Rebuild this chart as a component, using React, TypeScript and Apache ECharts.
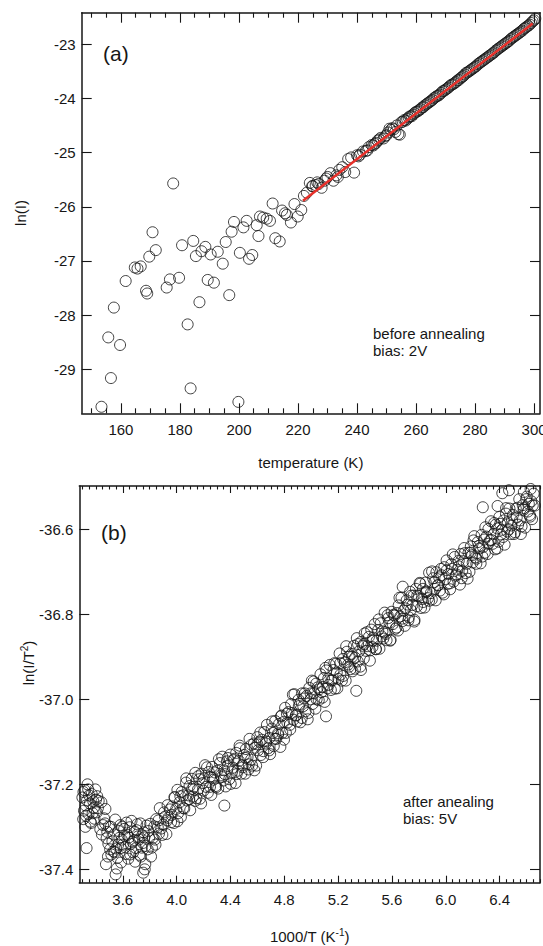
import React, { useEffect, useRef } from "react";
import * as echarts from "echarts";

// ---------- panel (a): ln(I) vs temperature ----------
const tempScatter: [number, number][] = [
  [153.4, -29.69], [155.7, -28.41], [156.6, -29.16], [157.6, -27.86], [159.7, -28.55],
  [161.6, -27.37], [164.7, -27.12], [165.6, -27.14], [166.7, -27.1], [168.5, -27.55],
  [168.9, -27.6], [169.6, -26.92], [170.7, -26.47], [171.8, -26.8], [175.5, -27.49],
  [176.6, -27.34], [177.7, -25.57], [179.7, -27.31], [180.7, -26.71], [182.6, -28.17],
  [183.6, -29.35], [184.5, -26.63], [185.4, -26.91], [186.6, -27.76], [187.3, -26.82],
  [188.6, -26.74], [189.4, -27.35], [190.4, -26.88], [191.5, -27.4], [192.8, -26.83],
  [194.5, -27.05], [195.5, -26.65], [196.7, -27.63], [197.5, -26.46], [198.3, -26.28],
  [199.8, -29.6], [200.3, -26.85], [201.5, -26.38], [202.6, -26.26], [203.4, -26.96],
  [204.5, -26.89], [206.0, -26.34], [206.6, -26.54], [207.1, -26.18], [208.2, -26.2],
  [209.4, -26.22], [210.5, -26.26], [211.4, -25.94], [212.3, -26.58], [213.8, -26.64],
  [214.6, -26.07], [215.6, -26.12], [216.2, -26.15], [217.6, -26.29], [218.8, -25.95],
  [219.9, -26.18], [221.1, -26.06],
];

const tempDense: [number, number][] = [
  [222, -25.8], [223, -25.74], [224, -25.56], [224.8, -25.62], [225, -25.62], [226, -25.6],
  [226.5, -25.55], [227, -25.58], [228, -25.65], [229, -25.52], [229.5, -25.48], [230, -25.45],
  [231, -25.38], [232, -25.52], [233, -25.42], [233.5, -25.45], [234, -25.32], [235, -25.27],
  [236, -25.36], [237, -25.12], [238, -25.09], [239, -25.37], [240, -25.05], [240.5, -25.07],
  [241, -25.04], [242, -24.98], [243, -24.97], [243.5, -24.96], [244, -24.9], [245, -24.86],
  [245.5, -24.87], [246, -24.84], [246.5, -24.82], [247, -24.78], [247.5, -24.76], [248, -24.73],
  [249, -24.74], [249.5, -24.7], [250, -24.68], [250.5, -24.63], [251, -24.56], [251.5, -24.58],
  [252, -24.55], [252.5, -24.57], [253, -24.62], [253.5, -24.5], [254, -24.66], [254.5, -24.67],
  [255, -24.44], [255.5, -24.43], [256, -24.4], [256.5, -24.41], [257, -24.38], [257.5, -24.35],
  [258, -24.33], [258.5, -24.33], [259, -24.3], [259.5, -24.27], [260, -24.25], [260.5, -24.24],
  [261, -24.22], [261.5, -24.2], [262, -24.17], [262.5, -24.16], [263, -24.13], [263.5, -24.11],
  [264, -24.09], [264.5, -24.07], [265, -24.05], [265.5, -24.03], [266, -24.0], [266.5, -23.98],
  [267, -23.96], [267.5, -23.95], [268, -23.93], [268.5, -23.9], [269, -23.87], [269.5, -23.86],
  [270, -23.84], [270.5, -23.82], [271, -23.8], [271.5, -23.77], [272, -23.75], [272.5, -23.74],
  [273, -23.72], [273.5, -23.7], [274, -23.67], [274.5, -23.66], [275, -23.63], [275.5, -23.61],
  [276, -23.59], [276.5, -23.56], [277, -23.53], [277.5, -23.52], [278, -23.5], [278.5, -23.48],
  [279, -23.46], [279.5, -23.44], [280, -23.42], [280.5, -23.4], [281, -23.37], [281.5, -23.35],
  [282, -23.33], [282.5, -23.31], [283, -23.29], [283.5, -23.27], [284, -23.25], [284.5, -23.23],
  [285, -23.21], [285.5, -23.19], [286, -23.17], [286.5, -23.15], [287, -23.12], [287.5, -23.1],
  [288, -23.08], [288.5, -23.06], [289, -23.04], [289.5, -23.02], [290, -23.0], [290.5, -22.98],
  [291, -22.96], [291.5, -22.94], [292, -22.91], [292.5, -22.89], [293, -22.87], [293.5, -22.85],
  [294, -22.83], [294.5, -22.81], [295, -22.79], [295.5, -22.77], [296, -22.75], [296.5, -22.72],
  [297, -22.7], [297.5, -22.68], [298, -22.66], [298.5, -22.64], [299, -22.61], [299.5, -22.58],
  [300, -22.56], [300.4, -22.53],
];

const fitLine: [number, number][] = [[221.7, -25.89], [299.5, -22.62]];

const topXTicks = [160, 180, 200, 220, 240, 260, 280, 300];
const topYTicks = [-29, -28, -27, -26, -25, -24, -23];

// ---------- panel (b): ln(I/T^2) vs 1000/T ----------
const invT: [number, number][] = [
  // left blob
  [3.3, -37.231], [3.306, -37.282], [3.317, -37.214], [3.325, -37.25], [3.338, -37.2], [3.345, -37.27],
  [3.355, -37.245], [3.364, -37.291], [3.369, -37.223], [3.381, -37.24], [3.39, -37.281], [3.396, -37.212],
  [3.407, -37.266], [3.415, -37.256], [3.331, -37.35], [3.312, -37.262], [3.334, -37.238], [3.35, -37.226],
  [3.376, -37.268], [3.401, -37.236], [3.322, -37.3],
  [3.308, -37.218], [3.327, -37.274], [3.343, -37.212], [3.36, -37.288], [3.385, -37.255], [3.41, -37.228],
  // descent
  [3.421, -37.239], [3.433, -37.306], [3.441, -37.242], [3.454, -37.296], [3.461, -37.28], [3.471, -37.258],
  [3.48, -37.327], [3.485, -37.312], [3.497, -37.299], [3.506, -37.353], [3.512, -37.3], [3.475, -37.388],
  [3.49, -37.37], [3.445, -37.318], [3.468, -37.292], [3.493, -37.34], [3.515, -37.365],
  // trough
  [3.523, -37.334], [3.531, -37.358], [3.544, -37.283], [3.551, -37.351], [3.561, -37.373], [3.57, -37.31],
  [3.575, -37.326], [3.587, -37.384], [3.596, -37.3], [3.602, -37.342], [3.613, -37.321], [3.621, -37.364],
  [3.634, -37.319], [3.641, -37.375], [3.651, -37.301], [3.66, -37.34], [3.665, -37.286], [3.677, -37.36],
  [3.686, -37.331], [3.692, -37.382], [3.703, -37.308], [3.711, -37.323], [3.724, -37.366], [3.731, -37.292],
  [3.741, -37.349], [3.75, -37.338], [3.755, -37.313], [3.767, -37.388], [3.776, -37.297],
  [3.547, -37.412], [3.556, -37.398], [3.752, -37.408], [3.763, -37.4], [3.535, -37.318], [3.566, -37.342],
  [3.592, -37.33], [3.618, -37.348], [3.645, -37.325], [3.672, -37.335], [3.698, -37.35], [3.72, -37.33],
  [3.745, -37.32], [3.77, -37.345], [3.582, -37.296], [3.628, -37.29], [3.707, -37.294],
  [3.54, -37.36], [3.585, -37.35], [3.61, -37.305], [3.655, -37.365], [3.69, -37.312], [3.735, -37.37],
  [3.76, -37.325],
  // recovery
  [3.785, -37.353], [3.796, -37.326], [3.804, -37.293], [3.817, -37.349], [3.824, -37.326], [3.834, -37.299],
  [3.843, -37.342], [3.848, -37.282], [3.86, -37.301], [3.869, -37.316], [3.875, -37.256], [3.886, -37.304],
  [3.894, -37.319], [3.907, -37.266], [3.914, -37.276], [3.924, -37.317], [3.933, -37.249], [3.938, -37.279],
  [3.95, -37.259], [3.79, -37.31], [3.81, -37.37], [3.838, -37.33], [3.865, -37.285], [3.9, -37.295],
  [3.93, -37.285],
  // rise
  [3.959, -37.289], [3.967, -37.252], [3.98, -37.291], [3.987, -37.231], [3.997, -37.258], [4.006, -37.213],
  [4.011, -37.268], [4.023, -37.242], [4.032, -37.277], [4.038, -37.218], [4.049, -37.226], [4.057, -37.257],
  [4.07, -37.196], [4.077, -37.238], [4.087, -37.226], [4.096, -37.204], [4.101, -37.261], [4.113, -37.187],
  [4.122, -37.229], [4.128, -37.206], [4.139, -37.173], [4.147, -37.233],
  [4.159, -37.212], [4.168, -37.188], [4.173, -37.234], [4.185, -37.175], [4.194, -37.197], [4.2, -37.215],
  [4.211, -37.155], [4.219, -37.206], [4.232, -37.22], [4.239, -37.171], [4.249, -37.182], [4.258, -37.225],
  [4.263, -37.159], [4.275, -37.189], [4.284, -37.172], [4.29, -37.204], [4.301, -37.168], [4.309, -37.21],
  [4.322, -37.15], [4.329, -37.179], [4.339, -37.135], [4.348, -37.191], [4.353, -37.167], [4.365, -37.205],
  [4.374, -37.146], [4.38, -37.157], [4.391, -37.188], [4.399, -37.13], [4.412, -37.171], [4.419, -37.161],
  [4.429, -37.14], [4.438, -37.197], [4.443, -37.126], [4.455, -37.168], [4.464, -37.145], [4.47, -37.115],
  [4.481, -37.175], [4.489, -37.155], [4.355, -37.25],
  [4.501, -37.131], [4.51, -37.175], [4.515, -37.117], [4.527, -37.136], [4.536, -37.153], [4.542, -37.093],
  [4.553, -37.142], [4.561, -37.156], [4.574, -37.104], [4.581, -37.114], [4.591, -37.156], [4.6, -37.089],
  [4.605, -37.12], [4.617, -37.1], [4.626, -37.131], [4.632, -37.095], [4.643, -37.136], [4.651, -37.077],
  [4.664, -37.104], [4.671, -37.06], [4.681, -37.115], [4.69, -37.091], [4.695, -37.129], [4.707, -37.069],
  [4.716, -37.079], [4.722, -37.11], [4.733, -37.051], [4.741, -37.093], [4.754, -37.08], [4.761, -37.058],
  [4.771, -37.112], [4.78, -37.038], [4.785, -37.079], [4.797, -37.053], [4.806, -37.02], [4.812, -37.079],
  [4.823, -37.055], [4.831, -37.03], [4.844, -37.071],
  [4.851, -37.011], [4.857, -37.032], [4.868, -37.048], [4.876, -36.988], [4.889, -37.037], [4.896, -37.052],
  [4.906, -37.001], [4.915, -37.011], [4.92, -37.054], [4.932, -36.986], [4.941, -37.016], [4.947, -36.998],
  [4.958, -37.028], [4.966, -36.992], [4.979, -37.032], [4.986, -36.973], [4.996, -37.0], [5.005, -36.956],
  [5.01, -37.011], [5.022, -36.985], [5.031, -37.022], [5.037, -36.963], [5.048, -36.972], [5.056, -37.002],
  [5.069, -36.941], [5.076, -36.983], [5.086, -36.971], [5.095, -36.95], [5.11, -37.04],
  [5.1, -37.006], [5.112, -36.932], [5.121, -36.974], [5.127, -36.951], [5.138, -36.919], [5.146, -36.978],
  [5.159, -36.955], [5.166, -36.931], [5.176, -36.975], [5.185, -36.916], [5.19, -36.937], [5.202, -36.952],
  [5.211, -36.892], [5.217, -36.942], [5.228, -36.956], [5.236, -36.905], [5.249, -36.913], [5.256, -36.956],
  [5.266, -36.888], [5.275, -36.918], [5.28, -36.9], [5.292, -36.929], [5.301, -36.893], [5.307, -36.934],
  [5.318, -36.874], [5.326, -36.902], [5.339, -36.856], [5.346, -36.911], [5.356, -36.887], [5.365, -36.923],
  [5.37, -36.865], [5.382, -36.874], [5.391, -36.904], [5.397, -36.845], [5.408, -36.886], [5.416, -36.875],
  [5.429, -36.853], [5.436, -36.909], [5.446, -36.836], [5.455, -36.877], [5.46, -36.855], [5.472, -36.823],
  [5.481, -36.882], [5.487, -36.862], [5.498, -36.837], [5.335, -36.98],
  [5.507, -36.881], [5.516, -36.821], [5.529, -36.84], [5.536, -36.857], [5.546, -36.796], [5.555, -36.846],
  [5.56, -36.861], [5.572, -36.809], [5.581, -36.819], [5.587, -36.862], [5.598, -36.794], [5.606, -36.823],
  [5.619, -36.803], [5.626, -36.834], [5.636, -36.797], [5.645, -36.838], [5.65, -36.779], [5.662, -36.805],
  [5.671, -36.761], [5.677, -36.816], [5.688, -36.791], [5.696, -36.827], [5.709, -36.767], [5.716, -36.777],
  [5.726, -36.807], [5.735, -36.747], [5.74, -36.79], [5.752, -36.778], [5.761, -36.756], [5.767, -36.813],
  [5.778, -36.74], [5.786, -36.781], [5.799, -36.757], [5.806, -36.726], [5.816, -36.785], [5.825, -36.764],
  [5.83, -36.74], [5.842, -36.784], [5.851, -36.725], [5.857, -36.746], [5.868, -36.762], [5.876, -36.702],
  [5.889, -36.75], [5.896, -36.765], [5.68, -36.735],
  [5.906, -36.715], [5.916, -36.724], [5.925, -36.767], [5.93, -36.701], [5.942, -36.731], [5.951, -36.713],
  [5.957, -36.744], [5.968, -36.708], [5.976, -36.749], [5.989, -36.689], [5.996, -36.717], [6.006, -36.673],
  [6.015, -36.728], [6.02, -36.705], [6.032, -36.741], [6.041, -36.682], [6.047, -36.693], [6.058, -36.723],
  [6.066, -36.665], [6.079, -36.706], [6.086, -36.695], [6.096, -36.674], [6.105, -36.73], [6.11, -36.658],
  [6.122, -36.698], [6.131, -36.675], [6.137, -36.644], [6.148, -36.703], [6.156, -36.681], [6.169, -36.655],
  [6.176, -36.7], [6.186, -36.64], [6.195, -36.661], [6.2, -36.678], [6.212, -36.616], [6.221, -36.666],
  [6.227, -36.681], [6.238, -36.63], [6.246, -36.639], [6.259, -36.68], [6.266, -36.613], [6.276, -36.642],
  [6.285, -36.624], [6.29, -36.655], [6.302, -36.617], [6.311, -36.658], [6.317, -36.599], [6.328, -36.626],
  [6.336, -36.581], [6.349, -36.634], [6.275, -36.548],
  [6.356, -36.611], [6.366, -36.647], [6.371, -36.589], [6.383, -36.598], [6.392, -36.629], [6.398, -36.571],
  [6.409, -36.612], [6.417, -36.601], [6.43, -36.579], [6.437, -36.636], [6.447, -36.563], [6.456, -36.605],
  [6.461, -36.583], [6.473, -36.551], [6.482, -36.611], [6.488, -36.591], [6.499, -36.566], [6.507, -36.611],
  [6.52, -36.551], [6.527, -36.572], [6.537, -36.589], [6.546, -36.529], [6.551, -36.579], [6.563, -36.593],
  [6.572, -36.543], [6.578, -36.554], [6.589, -36.596], [6.597, -36.529], [6.61, -36.558], [6.617, -36.54],
  [6.627, -36.57], [6.636, -36.534], [6.641, -36.576], [6.653, -36.516], [6.662, -36.544],
  [6.42, -36.515], [6.47, -36.508], [6.58, -36.512], [6.63, -36.505], [6.385, -36.545],
  // second pass of overlapping readings along the band
  [3.962, -37.272], [3.984, -37.23], [4.006, -37.287], [4.028, -37.228], [4.05, -37.256], [4.072, -37.186],
  [4.094, -37.235], [4.116, -37.211], [4.138, -37.239], [4.16, -37.181], [4.182, -37.245], [4.204, -37.186],
  [4.226, -37.16], [4.248, -37.206], [4.27, -37.185], [4.292, -37.207], [4.314, -37.141], [4.336, -37.183],
  [4.358, -37.176], [4.38, -37.138], [4.402, -37.199], [4.424, -37.143], [4.446, -37.176], [4.468, -37.109],
  [4.49, -37.16], [4.512, -37.138], [4.534, -37.165], [4.556, -37.107], [4.578, -37.167], [4.6, -37.106],
  [4.622, -37.078], [4.644, -37.122], [4.666, -37.099], [4.688, -37.12], [4.71, -37.052], [4.732, -37.093],
  [4.754, -37.084], [4.776, -37.04], [4.798, -37.095], [4.82, -37.034], [4.842, -37.06], [4.864, -36.989],
  [4.886, -37.038], [4.908, -37.016], [4.93, -37.044], [4.952, -36.986], [4.974, -37.047], [4.996, -36.986],
  [5.018, -36.958], [5.04, -37.0], [5.062, -36.976], [5.084, -36.996], [5.106, -36.926], [5.128, -36.966],
  [5.15, -36.956], [5.172, -36.915], [5.194, -36.974], [5.216, -36.915], [5.238, -36.945], [5.26, -36.875],
  [5.282, -36.923], [5.304, -36.9], [5.326, -36.928], [5.348, -36.87], [5.37, -36.931], [5.392, -36.87],
  [5.414, -36.842], [5.436, -36.885], [5.458, -36.862], [5.48, -36.882], [5.502, -36.812], [5.524, -36.852],
  [5.546, -36.842], [5.568, -36.802], [5.59, -36.86], [5.612, -36.801], [5.634, -36.831], [5.656, -36.761],
  [5.678, -36.81], [5.7, -36.786], [5.722, -36.814], [5.744, -36.756], [5.766, -36.817], [5.788, -36.756],
  [5.81, -36.728], [5.832, -36.771], [5.854, -36.748], [5.876, -36.768], [5.898, -36.699], [5.92, -36.74],
  [5.942, -36.732], [5.964, -36.693], [5.986, -36.753], [6.008, -36.696], [6.03, -36.727], [6.052, -36.659],
  [6.074, -36.709], [6.096, -36.687], [6.118, -36.715], [6.14, -36.656], [6.162, -36.716], [6.184, -36.655],
  [6.206, -36.626], [6.228, -36.669], [6.25, -36.645], [6.272, -36.664], [6.294, -36.595], [6.316, -36.634],
  [6.338, -36.625], [6.36, -36.585], [6.382, -36.645], [6.404, -36.587], [6.426, -36.618], [6.448, -36.55],
  [6.47, -36.6], [6.492, -36.578], [6.514, -36.607], [6.536, -36.549], [6.558, -36.611], [6.58, -36.55],
  [6.602, -36.523], [6.624, -36.566], [6.646, -36.544],
];

const botXTicks = [3.6, 4.0, 4.4, 4.8, 5.2, 5.6, 6.0, 6.4];
const botYTicks = [-37.4, -37.2, -37.0, -36.8, -36.6];

// ---------- styling ----------
const FONT = "'Liberation Sans', Arial, Helvetica, sans-serif";
const INK = "#161616";

function minorTicks(min: number, max: number, step: number, major: number[]) {
  const out: number[] = [];
  const start = Math.ceil(min / step - 1e-6);
  const end = Math.floor(max / step + 1e-6);
  for (let i = start; i <= end; i++) {
    const v = +(i * step).toFixed(4);
    if (!major.some((m) => Math.abs(m - v) < 1e-6)) out.push(v);
  }
  return out;
}

function xAxes(
  grid: number, min: number, max: number, major: number[], minor: number[],
  majLen: number, minLen: number, fmt: (v: number) => string, name: string, nameGap: number
) {
  const base = { type: "value", gridIndex: grid, min, max, splitLine: { show: false } };
  const line = { show: true, onZero: false, lineStyle: { color: INK, width: 1.5 } };
  const tickStyle = { color: INK, width: 1.1 };
  return [
    {
      ...base, position: "bottom", axisLine: line,
      axisTick: { show: true, inside: true, length: majLen, customValues: major, lineStyle: tickStyle },
      axisLabel: { show: true, customValues: major, formatter: fmt, margin: 9, fontSize: 15, color: INK, fontFamily: FONT },
      name, nameLocation: "middle", nameGap,
      nameTextStyle: {
        fontSize: 15, color: INK, fontFamily: FONT,
        rich: {
          n: { fontSize: 15, color: INK, fontFamily: FONT },
          s: { fontSize: 10, color: INK, fontFamily: FONT, padding: [0, 0, 8, 0] },
        },
      },
    },
    {
      ...base, position: "bottom", axisLine: { show: false },
      axisTick: { show: true, inside: true, length: minLen, customValues: minor, lineStyle: tickStyle },
      axisLabel: { show: false },
    },
    {
      ...base, position: "top", axisLine: line,
      axisTick: { show: true, inside: true, length: majLen, customValues: major, lineStyle: tickStyle },
      axisLabel: { show: false },
    },
    {
      ...base, position: "top", axisLine: { show: false },
      axisTick: { show: true, inside: true, length: minLen, customValues: minor, lineStyle: tickStyle },
      axisLabel: { show: false },
    },
  ];
}

function yAxes(grid: number, min: number, max: number, major: number[], fmt: (v: number) => string) {
  const base = { type: "value", gridIndex: grid, min, max, splitLine: { show: false } };
  const line = { show: true, onZero: false, lineStyle: { color: INK, width: 1.5 } };
  const tickStyle = { color: INK, width: 1.1 };
  return [
    {
      ...base, position: "left", axisLine: line,
      axisTick: { show: true, inside: true, length: 10, customValues: major, lineStyle: tickStyle },
      axisLabel: { show: true, customValues: major, formatter: fmt, margin: 6, fontSize: 15, color: INK, fontFamily: FONT },
    },
    {
      ...base, position: "right", axisLine: line,
      axisTick: { show: true, inside: true, length: 10, customValues: major, lineStyle: tickStyle },
      axisLabel: { show: false },
    },
  ];
}

export default function App() {
  const ref = useRef<HTMLDivElement>(null);

  useEffect(() => {
    if (!ref.current) return;
    const chart = echarts.init(ref.current, undefined, { renderer: "svg" });

    const topXMin = 146.7, topXMax = 302;
    const botXMin = 3.277, botXMax = 6.7;

    const circle = {
      type: "scatter",
      symbol: "circle",
      itemStyle: { color: "rgba(0,0,0,0)", borderColor: "#141414", borderWidth: 1 },
      emphasis: { disabled: true },
    };

    chart.setOption({
      animation: false,
      backgroundColor: "#ffffff",
      grid: [
        { left: 81.7, top: 12.7, width: 458.3, height: 400.6, outerBoundsMode: "none" },
        { left: 79.3, top: 486, width: 460.7, height: 396.7, outerBoundsMode: "none" },
      ],
      xAxis: [
        ...xAxes(0, topXMin, topXMax, topXTicks, minorTicks(topXMin, topXMax, 5, topXTicks), 10, 5,
          (v: number) => String(Math.round(v)), "temperature (K)", 42),
        ...xAxes(1, botXMin, botXMax, botXTicks, minorTicks(botXMin, botXMax, 0.05, botXTicks), 7, 3.5,
          (v: number) => v.toFixed(1), "{n|1000/T (K}{s|-1}{n|)}", 45),
      ],
      yAxis: [
        ...yAxes(0, -29.81, -22.42, topYTicks, (v: number) => String(Math.round(v))),
        ...yAxes(1, -37.4315, -36.498, botYTicks, (v: number) => v.toFixed(1)),
      ],
      series: [
        { ...circle, name: "ln(I)", xAxisIndex: 0, yAxisIndex: 0, symbolSize: 11, data: [...tempScatter, ...tempDense], z: 2 },
        {
          type: "line", name: "fit", xAxisIndex: 0, yAxisIndex: 0, data: fitLine, symbol: "none",
          lineStyle: { color: "#e8302a", width: 2.5 }, z: 3, silent: true,
        },
        { ...circle, name: "ln(I/T^2)", xAxisIndex: 4, yAxisIndex: 2, symbolSize: 11, data: invT, z: 2 },
      ],
      graphic: [
        { type: "text", x: 103, y: 53, style: { text: "(a)", fontSize: 21, fontFamily: FONT, fill: INK, verticalAlign: "middle" } },
        { type: "text", x: 101, y: 532, style: { text: "(b)", fontSize: 21, fontFamily: FONT, fill: INK, verticalAlign: "middle" } },
        {
          type: "text", x: 373, y: 325,
          style: { text: "before annealing\nbias: 2V", fontSize: 15, lineHeight: 17, fontFamily: FONT, fill: INK, verticalAlign: "top" },
        },
        {
          type: "text", x: 403, y: 793,
          style: { text: "after anealing\nbias: 5V", fontSize: 15, lineHeight: 17, fontFamily: FONT, fill: INK, verticalAlign: "top" },
        },
        {
          type: "text", x: 20, y: 213, rotation: Math.PI / 2,
          style: { text: "ln(I)", fontSize: 15, fontFamily: FONT, fill: INK, align: "center", verticalAlign: "middle" },
        },
        {
          type: "text", x: 28, y: 663, rotation: Math.PI / 2,
          style: {
            text: "{n|ln(I/T}{s|2}{n|)}", align: "center", verticalAlign: "middle",
            rich: {
              n: { fontSize: 15, fontFamily: FONT, fill: INK },
              s: { fontSize: 10, fontFamily: FONT, fill: INK, padding: [0, 0, 8, 0] },
            },
          },
        },
      ],
    });

    return () => chart.dispose();
  }, []);

  return (
    <div
      ref={ref}
      style={{ position: "absolute", left: 0, top: 0, width: 543, height: 946, background: "#fff" }}
    />
  );
}
